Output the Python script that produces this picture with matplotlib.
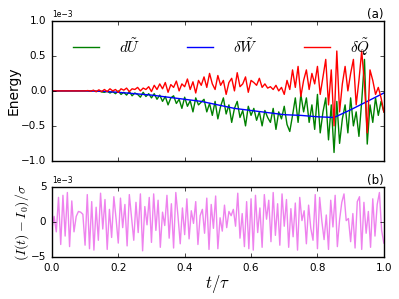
import matplotlib

matplotlib.use("Agg")
import matplotlib.pyplot as plt
import numpy as np

# energy curves, in units of 1e-3
w_t = [0.0, 0.05, 0.1, 0.15, 0.2, 0.25, 0.3, 0.35, 0.4, 0.45, 0.5,
       0.55, 0.6, 0.65, 0.7, 0.75, 0.8, 0.85, 0.9, 0.95, 1.0]
dW = [0.0, 0.0, 0.0, -0.005, -0.02, -0.04, -0.06, -0.09, -0.12, -0.15, -0.2,
      -0.25, -0.28, -0.31, -0.34, -0.35, -0.37, -0.38, -0.27, -0.15, -0.03]

dQ = ([0.0] * 13
      + [0.005, -0.005, 0.01, -0.01, 0.015, -0.01]
      + [0.02, -0.01, 0.03, 0.0, 0.02, -0.02, 0.03, 0.01, 0.04, -0.01, 0.03, 0.02,
         0.05, 0.0, 0.04, 0.02, 0.06, -0.01]
      + [0.08, 0.02, 0.1, 0.03, 0.12, -0.02, 0.09, 0.05, 0.14, 0.0, 0.1, 0.06,
         0.17, 0.02, 0.13, -0.03, 0.15, 0.08]
      + [0.2, 0.05, 0.25, 0.1, 0.02, 0.22, 0.08, 0.15, -0.05, 0.12, 0.18, 0.0,
         0.26, 0.06, 0.1, 0.2, -0.02, 0.15]
      + [0.12, 0.08, 0.18, 0.05, 0.1, 0.04, 0.06, 0.02, 0.08, 0.0, 0.05, -0.05,
         0.15, 0.02, 0.3, 0.05, 0.35, -0.08]
      + [0.15, 0.3, 0.02, 0.25, 0.1, 0.35, -0.05, 0.2, 0.45, -0.2, 0.3, -0.5,
         0.57, -0.3, 0.1, 0.35, 0.0, 0.25, 0.45, -0.2, 0.15, 0.57, 0.1, -0.6,
         0.3, 0.15, -0.05, 0.05, -0.1, -0.3])

dU = ([0.0] * 13
      + [0.0, -0.005, 0.005, -0.01, 0.0, -0.015]
      + [-0.02, -0.005, -0.03, -0.01, -0.04, 0.0, -0.05, -0.02, -0.06, -0.01,
         -0.07, -0.03, -0.05, -0.09, -0.02, -0.08, -0.04, -0.1]
      + [-0.04, -0.12, -0.06, -0.15, -0.08, -0.2, -0.1, -0.07, -0.18, -0.12,
         -0.25, -0.09, -0.22, -0.14, -0.3, -0.1, -0.2, -0.16]
      + [-0.12, -0.3, -0.18, -0.35, -0.15, -0.4, -0.22, -0.1, -0.33, -0.2,
         -0.45, -0.25, -0.15, -0.38, -0.28, -0.5, -0.22, -0.35]
      + [-0.25, -0.42, -0.3, -0.5, -0.28, -0.38, -0.45, -0.25, -0.55, -0.3,
         -0.4, -0.22, -0.48, -0.58, -0.35, -0.1, -0.45, -0.05]
      + [-0.3, -0.1, -0.45, -0.2, -0.55, -0.05, -0.6, -0.3, -0.1, -0.7, -0.2,
         -0.88, -0.15, -0.75, -0.4, -0.2, -0.6, -0.1, -0.5, -0.3, -0.65, -0.15,
         0.45, -0.76, -0.2, -0.45, -0.1, -0.35, -0.15, -0.3])

# current fluctuation, in units of 1e-3
dI = [-0.9, 0.8, -1.4, 3.5, -3.2, 3.8, -2.0, 4.2, -3.5, 3.0, -1.4, 0.8, 1.5, 1.4, 1.1, -3.3,
      3.9, -3.8, 2.9, -4.0, 2.1, -2.6, 4.1, -1.0, 3.2, -3.9, 1.8, -2.2, 3.6, 0.5, -3.0,
      3.4, -0.8, 2.5, -3.4, 3.9, 0.6, -2.6, 2.8, -1.5, 4.0, -4.1, 2.2, -0.4, 3.5, -2.9,
      4.0, -1.2, 3.1, -3.6, 1.4, -0.5, 3.8, -2.3, 2.6, -3.7, 4.2, 0.8, -3.1, 2.0, -1.8,
      3.3, -2.4, 1.6, -0.2, 2.9, -3.2, 0.9, 1.8, -1.6, 3.4, -3.9, 2.5, -0.9, 3.7, -3.8,
      0.6, -1.3, 2.4, -0.8, 1.5, 0.9, 1.8, -0.6, 4.1, -2.3, 1.2, -3.5, 2.9, -3.8, 3.3,
      -4.0, 3.8, -1.5, 2.0, -3.6, 3.9, 0.4, 3.1, -2.8, 4.2, -1.9, 2.6, -3.3, 4.0, -0.6,
      3.2, -3.6, 1.9, -2.1, 2.7, -4.0, 3.5, 0.2, 1.6, -3.1, 2.4, -0.9, -2.6, 3.9, -3.8,
      3.5, 0.1, -2.5, 1.0, -3.9, 3.1, -0.7, 3.8, -3.5, 0.3, 2.8, 4.0, 0.2, 0.5, -2.8,
      1.2, -3.7, 2.9, 3.6, -3.9, 2.8, -1.6, 1.5, -3.6, 3.3, -2.0, 2.5, 4.2, -1.2, -3.0]

plt.style.use("classic")
plt.rcParams["mathtext.fontset"] = "cm"
plt.rcParams["font.size"] = 7.5
plt.rcParams["xtick.major.size"] = 3
plt.rcParams["ytick.major.size"] = 3
plt.rcParams["axes.formatter.limits"] = (-2, 3)

fig = plt.figure(figsize=(3.99, 2.99), dpi=100, facecolor="white")
ax1 = fig.add_axes([0.130, 0.462, 0.832, 0.468])
ax2 = fig.add_axes([0.130, 0.140, 0.832, 0.235])

t_q = np.linspace(0, 1, len(dQ))
t_u = np.linspace(0, 1, len(dU))
ax1.plot(t_u, np.array(dU) * 1e-3, color="g", lw=1.0, label=r"$d\tilde{U}$")
ax1.plot(w_t, np.array(dW) * 1e-3, color="b", lw=1.0, label=r"$\delta\tilde{W}$")
ax1.plot(t_q, np.array(dQ) * 1e-3, color="r", lw=1.0, label=r"$\delta\tilde{Q}$")
ax1.set_xlim(0, 1)
ax1.set_ylim(-1e-3, 1e-3)
ax1.set_yticks([-1e-3, -0.5e-3, 0, 0.5e-3, 1e-3])
ax1.set_xticklabels([])
ax1.set_ylabel("Energy", fontsize=10, labelpad=0)
ax1.set_title("(a)", loc="right", fontsize=8.5, pad=2)
ax1.legend(loc="upper center", bbox_to_anchor=(0.505, 0.99), ncol=3, frameon=False,
           fontsize=11, handlelength=2.3, handletextpad=1.0, columnspacing=2.75)

t_i = np.linspace(0, 1, len(dI))
ax2.plot(t_i, np.array(dI) * 1e-3, color="violet", lw=1.0)
ax2.set_xlim(0, 1)
ax2.set_ylim(-5e-3, 5e-3)
ax2.set_yticks([-5e-3, 0, 5e-3])
ax2.set_ylabel(r"$(I(t)-I_0)/\sigma$", fontsize=10, labelpad=0)
ax2.set_xlabel(r"$t/\tau$", fontsize=12, labelpad=0)
ax2.set_title("(b)", loc="right", fontsize=8.5, pad=2)

for ax in (ax1, ax2):
    ax.yaxis.get_offset_text().set_fontsize(5.5)

fig.savefig("out.png", dpi=100, facecolor="white")
